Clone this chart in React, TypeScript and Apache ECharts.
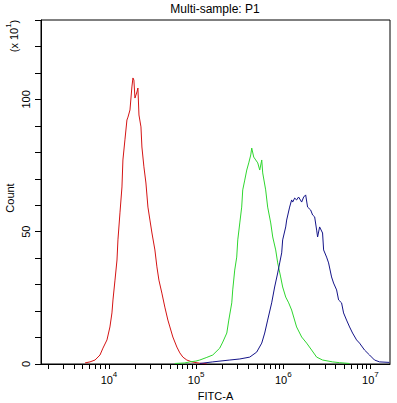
import React, { useEffect, useRef } from "react";
import * as echarts from "echarts";

// log10(FITC-A) positions and counts (x10^1)
const redLog = [3.725, 3.782, 3.84, 3.897, 3.931, 3.977, 4.011, 4.034, 4.046, 4.069, 4.092, 4.103, 4.126, 4.149, 4.16, 4.183, 4.206, 4.218, 4.241, 4.263, 4.275, 4.286, 4.298, 4.321, 4.332, 4.344, 4.367, 4.378, 4.401, 4.424, 4.447, 4.47, 4.493, 4.527, 4.55, 4.573, 4.607, 4.641, 4.676, 4.699, 4.733, 4.779, 4.813, 4.848, 4.893, 4.951, 5.04, 5.12];
const redCount = [0.4, 0.8, 1.5, 3.4, 6.0, 9.1, 14, 19.3, 24.2, 31.7, 39.3, 46.9, 57.1, 66.9, 77.1, 84.7, 92.2, 93.3, 96, 104.7, 108.1, 107.3, 100.5, 102.8, 104.3, 94.1, 89.6, 82, 74.5, 68.4, 59.3, 54.4, 49.5, 43.1, 36.7, 31.7, 26.8, 21.5, 16.6, 14, 10.2, 6.4, 4.2, 2.6, 1.5, 0.8, 0.3, 0.1];

const greenLog = [4.756, 4.871, 4.928, 4.997, 5.042, 5.123, 5.191, 5.271, 5.306, 5.352, 5.375, 5.409, 5.42, 5.443, 5.466, 5.478, 5.501, 5.523, 5.535, 5.558, 5.581, 5.604, 5.627, 5.638, 5.661, 5.684, 5.707, 5.73, 5.753, 5.764, 5.798, 5.821, 5.856, 5.879, 5.913, 5.936, 5.97, 5.993, 6.028, 6.062, 6.096, 6.153, 6.211, 6.268, 6.325, 6.383, 6.451, 6.566, 6.646, 6.76];
const greenCount = [0.2, 0.4, 0.8, 1.1, 1.5, 2.5, 3.4, 6.0, 8.3, 11.7, 16.6, 23.1, 28, 35.5, 40.4, 46.9, 53.3, 59.3, 65.8, 69.5, 73.3, 76, 79, 81.6, 78.2, 77.1, 76, 73.3, 77.1, 72.2, 65.8, 59.3, 53.3, 48, 43.1, 38.2, 32.9, 29.1, 25.3, 23.1, 20.4, 14, 10.2, 7.9, 5.3, 2.6, 1.5, 0.8, 0.5, 0.2];

const blueLog = [5.042, 5.191, 5.386, 5.501, 5.615, 5.695, 5.753, 5.787, 5.821, 5.867, 5.901, 5.936, 5.959, 5.982, 5.993, 6.028, 6.039, 6.073, 6.096, 6.108, 6.131, 6.153, 6.176, 6.211, 6.234, 6.257, 6.279, 6.314, 6.337, 6.36, 6.383, 6.394, 6.417, 6.451, 6.463, 6.497, 6.52, 6.554, 6.577, 6.612, 6.635, 6.669, 6.692, 6.726, 6.761, 6.795, 6.841, 6.875, 6.932, 6.99, 7.047, 7.104, 7.219];
const blueCount = [0.2, 0.8, 1.5, 1.9, 2.6, 4.5, 7.9, 11.7, 16.6, 23.1, 29.1, 34.4, 38.2, 42, 46.9, 51.8, 54.4, 59.3, 62, 61.2, 62.7, 62, 63.1, 61.2, 63.1, 63.9, 59.3, 58.2, 56.3, 55.6, 50.6, 48, 51.8, 49.5, 43.1, 40.4, 38.2, 32.9, 30.6, 28, 24.2, 23.1, 19.3, 16.6, 14, 11.7, 9.1, 7.9, 5.3, 3.4, 1.5, 0.8, 0.6];

const xDecadeLabels = [4, 5, 6, 7];
const yTickLabels = [0, 50, 100];

const X_MIN = 3.22;
const X_MAX = 7.2247;

const FONT = "Arial, 'Liberation Sans', sans-serif";

function zip(xs: number[], ys: number[]) {
  return xs.map((x, i) => [x, ys[i]]);
}

export default function App() {
  const ref = useRef<HTMLDivElement>(null);
  useEffect(() => {
    if (!ref.current) return;
    const chart = echarts.init(ref.current, null, { renderer: "svg" });
    const minorTicks: number[] = [];
    for (let d = 3; d <= 7; d++) {
      for (let k = 1; k <= 9; k++) {
        const v = d + Math.log10(k);
        if (v >= X_MIN && v <= X_MAX) minorTicks.push(v);
      }
    }
    const line = (name: string, data: number[][], color: string) => ({
      type: "line",
      name,
      data,
      showSymbol: false,
      symbol: "none",
      lineStyle: { color, width: 1 },
      itemStyle: { color },
    });
    chart.setOption({
      animation: false,
      backgroundColor: "#fff",
      title: {
        text: "Multi-sample: P1",
        left: 215,
        textAlign: "center",
        top: 3,
        padding: 0,
        textStyle: { fontSize: 12, fontWeight: "normal", color: "#000", fontFamily: FONT },
      },
      grid: {
        left: 41,
        top: 20,
        right: 7,
        bottom: 39,
        outerBoundsMode: "none",
        show: true,
        borderColor: "#000",
        borderWidth: 1,
        backgroundColor: "transparent",
      },
      xAxis: {
        type: "value",
        min: X_MIN,
        max: X_MAX,
        name: "FITC-A",
        nameLocation: "middle",
        nameGap: 26,
        nameTextStyle: { fontSize: 11, color: "#000", fontFamily: FONT },
        axisLine: { show: true, lineStyle: { color: "#000", width: 1 } },
        axisTick: { show: true, customValues: minorTicks, length: 5, lineStyle: { color: "#000" } },
        axisLabel: {
          customValues: xDecadeLabels,
          margin: 6,
          formatter: (v: number) => `{b|10}{s|${Math.round(v)}}`,
          rich: {
            b: { fontSize: 11, color: "#000", fontFamily: FONT, verticalAlign: "bottom", lineHeight: 15 },
            s: { fontSize: 8, color: "#000", fontFamily: FONT, verticalAlign: "top", lineHeight: 15 },
          },
        },
        splitLine: { show: false },
      },
      yAxis: {
        type: "value",
        min: 0,
        max: 130,
        interval: 10,
        axisLine: { show: true, lineStyle: { color: "#000", width: 1 } },
        axisTick: { show: true, length: 6, lineStyle: { color: "#000" } },
        axisLabel: {
          customValues: yTickLabels,
          rotate: 90,
          margin: 10,
          fontSize: 11,
          color: "#000",
          fontFamily: FONT,
        },
        splitLine: { show: false },
      },
      graphic: [
        {
          type: "text",
          x: 10,
          y: 198,
          rotation: Math.PI / 2,
          style: {
            text: "Count",
            fontSize: 11,
            fill: "#000",
            fontFamily: FONT,
            align: "center",
            verticalAlign: "middle",
          },
        },
        {
          type: "text",
          x: 12,
          y: 36,
          rotation: Math.PI / 2,
          style: {
            text: "{a|(x 10}{s|1}{a|)}",
            align: "center",
            verticalAlign: "middle",
            rich: {
              a: { fontSize: 11, fill: "#000", fontFamily: FONT, verticalAlign: "bottom", lineHeight: 15 },
              s: { fontSize: 8, fill: "#000", fontFamily: FONT, verticalAlign: "top", lineHeight: 15 },
            },
          },
        },
      ],
      series: [
        line("red", zip(redLog, redCount), "#d41414"),
        line("green", zip(greenLog, greenCount), "#2fd62f"),
        line("blue", zip(blueLog, blueCount), "#141488"),
      ],
    });
    return () => chart.dispose();
  }, []);
  return (
    <div
      ref={ref}
      style={{ position: "fixed", left: 0, top: 0, width: 397, height: 403, background: "#fff" }}
    />
  );
}
